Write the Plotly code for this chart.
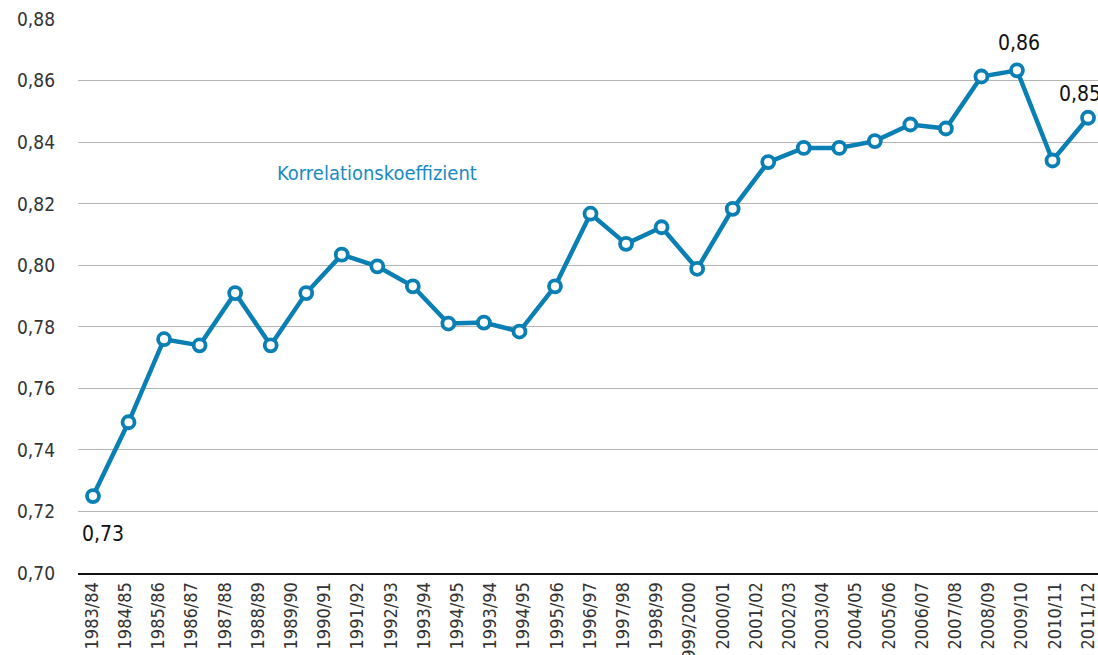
import plotly.graph_objects as go

# Tick labels on the x axis (31 labels as printed in the source chart)
tick_labels = ["1983/84", "1984/85", "1985/86", "1986/87", "1987/88", "1988/89",
               "1989/90", "1990/91", "1991/92", "1992/93", "1993/94", "1994/95",
               "1993/94", "1994/95", "1995/96", "1996/97", "1997/98", "1998/99",
               "1999/2000", "2000/01", "2001/02", "2002/03", "2003/04", "2004/05",
               "2005/06", "2006/07", "2007/08", "2008/09", "2009/10", "2010/11",
               "2011/12"]

# Correlation coefficient series (29 points as drawn)
values = [0.725, 0.749, 0.776, 0.774, 0.791, 0.774, 0.791, 0.8035, 0.7997,
          0.7932, 0.7811, 0.7814, 0.7785, 0.7932, 0.8168, 0.8070, 0.8124,
          0.7989, 0.8184, 0.8336, 0.8382, 0.8382, 0.8404, 0.8458, 0.8445,
          0.8614, 0.8634, 0.8341, 0.848]

y_ticks = [0.70, 0.72, 0.74, 0.76, 0.78, 0.80, 0.82, 0.84, 0.86, 0.88]

# labelled points: (index, text)
point_labels = [(0, "0,73"), (26, "0,86"), (28, "0,85")]

BLUE = "#0a7fb3"
FONT = "Liberation Sans Narrow, DejaVu Sans Condensed, Arial Narrow, sans-serif"

idx = list(range(len(values)))
n_ticks = len(tick_labels)

fig = go.Figure()
# invisible helper trace to anchor the tick-label axis
fig.add_trace(go.Scatter(x=[0, n_ticks - 1], y=[None, None], xaxis="x",
                         yaxis="y", mode="lines", showlegend=False,
                         hoverinfo="skip"))
fig.add_trace(go.Scatter(
    x=idx, y=values, xaxis="x2", yaxis="y", mode="lines+markers",
    line=dict(color=BLUE, width=4.5),
    marker=dict(symbol="circle", size=12, color="white",
                line=dict(color=BLUE, width=3.8)),
    showlegend=False, cliponaxis=False))

annotations = [dict(x=7.98, y=0.8302, xref="x2", yref="y",
                    text="Korrelationskoeffizient", showarrow=False,
                    font=dict(family=FONT, size=20, color="#1a8ac2"))]
shifts = {0: (10, -38), 26: (2, 27), 28: (-8, 24)}
for i, t in point_labels:
    annotations.append(dict(x=i, y=values[i], xref="x2", yref="y", text=t,
                            showarrow=False, xshift=shifts[i][0],
                            yshift=shifts[i][1],
                            font=dict(family=FONT, size=21, color="#111111")))

fig.update_layout(
    width=1098, height=655,
    margin=dict(l=78, r=0, t=19, b=82),
    paper_bgcolor="white", plot_bgcolor="white",
    separators=",.",
    font=dict(family=FONT, color="#333333"),
    xaxis=dict(range=[-0.42, 30.3], tickmode="array",
               tickvals=list(range(n_ticks)), ticktext=tick_labels,
               tickangle=-90, tickfont=dict(family=FONT, size=18, color="#333333"),
               showgrid=False, zeroline=False, showline=True,
               linecolor="#111111", linewidth=2, ticks="", automargin=False,
               ticklabeloverflow="allow", fixedrange=True),
    xaxis2=dict(range=[-0.422, 28.28], overlaying="x", side="bottom",
                showticklabels=False, showgrid=False, zeroline=False,
                showline=False, fixedrange=True),
    yaxis=dict(range=[0.70, 0.8801], tickmode="array", tickvals=y_ticks,
               tickformat=".2f", tickfont=dict(family=FONT, size=19, color="#333333"),
               showgrid=True, gridcolor="#b4b4b4", gridwidth=1,
               zeroline=False, showline=False, ticks="",
               ticklabelstandoff=22, automargin=False,
               ticklabeloverflow="allow", fixedrange=True),
    annotations=annotations,
)

fig.write_html("out.html",
               config={"displayModeBar": False},
               post_script="document.body.style.margin='0';"
                           "document.body.style.overflow='hidden';")
